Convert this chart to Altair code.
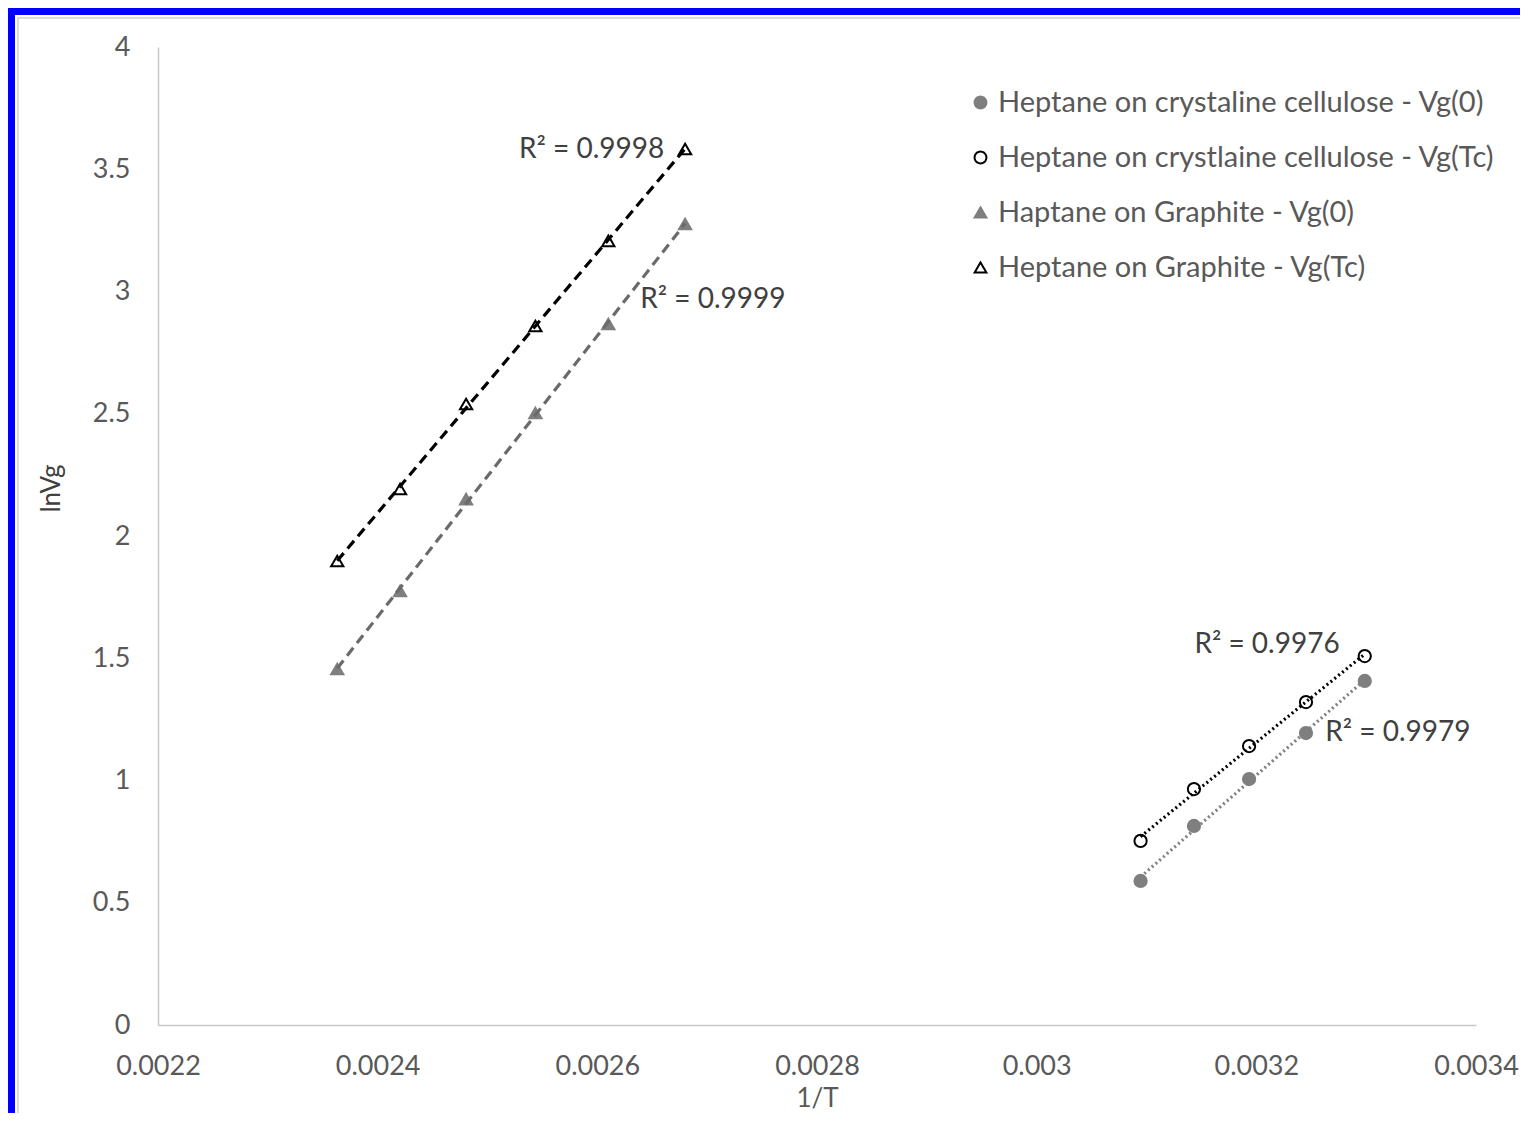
import altair as alt
import pandas as pd

# ---- data ----
series_names = [
    "Heptane on crystaline cellulose - Vg(0)",
    "Heptane on crystlaine cellulose - Vg(Tc)",
    "Haptane on Graphite - Vg(0)",
    "Heptane on Graphite - Vg(Tc)",
]
series_group = ["cellulose", "cellulose", "graphite", "graphite"]

cell_x = [0.0030946, 0.0031432, 0.0031934, 0.0032452, 0.0032987]
cell_vg0 = [0.589, 0.814, 1.006, 1.194, 1.407]
cell_vgtc = [0.753, 0.965, 1.141, 1.321, 1.509]

graph_x = [0.0023632, 0.0024204, 0.0024805, 0.0025436, 0.0026100, 0.0026799]
graph_vg0 = [1.456, 1.775, 2.151, 2.503, 2.867, 3.276]
graph_vgtc = [1.898, 2.192, 2.540, 2.859, 3.207, 3.583]

r2_labels = ["R² = 0.9998", "R² = 0.9999", "R² = 0.9976", "R² = 0.9979"]
r2_x = [0.0026609, 0.0026391, 0.0031436, 0.0032627]
r2_y = [3.579, 2.965, 1.554, 1.194]
r2_align = ["right", "left", "left", "left"]

x_ticks = [0.0022, 0.0024, 0.0026, 0.0028, 0.003, 0.0032, 0.0034]
y_ticks = [0, 0.5, 1, 1.5, 2, 2.5, 3, 3.5, 4]

rows = []
for xs, ys, name, grp in [
    (cell_x, cell_vg0, series_names[0], series_group[0]),
    (cell_x, cell_vgtc, series_names[1], series_group[1]),
    (graph_x, graph_vg0, series_names[2], series_group[2]),
    (graph_x, graph_vgtc, series_names[3], series_group[3]),
]:
    for a, b in zip(xs, ys):
        rows.append({"x": a, "y": b, "series": name, "group": grp})
df = pd.DataFrame(rows)

labels_df = pd.DataFrame({"x": r2_x, "y": r2_y, "text": r2_labels, "align": r2_align})

FONT = "Lato"
LABEL_COLOR = "#595959"

xscale = alt.Scale(domain=[0.0022, 0.0034], nice=False, zero=False)
yscale = alt.Scale(domain=[0, 4], nice=False)

stroke_scale = alt.Scale(domain=series_names, range=["#7f7f7f", "#000000", "#7f7f7f", "#000000"])
fill_scale = alt.Scale(domain=series_names, range=["#7f7f7f", "#ffffff", "#7f7f7f", "#ffffff"])
shape_scale = alt.Scale(domain=series_names, range=["circle", "circle", "triangle-up", "triangle-up"])
line_color_scale = alt.Scale(domain=series_names, range=["#7f7f7f", "#000000", "#6a6a6a", "#000000"])

legend = alt.Legend(
    title=None,
    orient="none",
    legendX=808,
    legendY=41,
    labelFont=FONT,
    labelFontSize=29,
    labelColor=LABEL_COLOR,
    labelLimit=0,
    symbolSize=140,
    symbolStrokeWidth=2,
    symbolDash=[1, 0],
    rowPadding=25,
    labelOffset=3,
)

base = alt.Chart(df)

x_enc = alt.X(
    "x:Q",
    scale=xscale,
    axis=alt.Axis(
        title="1/T",
        values=x_ticks,
        labelExpr="datum.value == 0.003 ? '0.003' : format(datum.value, '.4f')",
        grid=False,
        ticks=False,
        labelFlush=False,
        domainColor="#c8c8c8",
        domainWidth=1.5,
        labelFont=FONT,
        labelFontSize=27,
        labelColor=LABEL_COLOR,
        labelPadding=28,
        titleFont=FONT,
        titleFontSize=26,
        titleFontWeight="normal",
        titleColor=LABEL_COLOR,
        titlePadding=6,
    ),
)
y_enc = alt.Y(
    "y:Q",
    scale=yscale,
    axis=alt.Axis(
        title="lnVg",
        values=y_ticks,
        format=".1~f",
        grid=False,
        ticks=False,
        labelFlush=False,
        domainColor="#c8c8c8",
        domainWidth=1.5,
        labelFont=FONT,
        labelFontSize=27,
        labelColor=LABEL_COLOR,
        labelPadding=28,
        titleFont=FONT,
        titleFontSize=26,
        titleFontWeight="normal",
        titleColor="#404040",
        titleX=-99,
        titleY=441,
        titleBaseline="alphabetic",
    ),
)

points = base.mark_point(filled=False, strokeWidth=2, size=150, opacity=1).encode(
    x=x_enc,
    y=y_enc,
    stroke=alt.Stroke("series:N", scale=stroke_scale, legend=legend, sort=series_names),
    fill=alt.Fill("series:N", scale=fill_scale, legend=legend, sort=series_names),
    shape=alt.Shape("series:N", scale=shape_scale, legend=legend, sort=series_names),
)

def trend(group, dash):
    return base.transform_filter(
        alt.datum.group == group
    ).transform_regression(
        "x", "y", groupby=["series"], method="linear"
    ).mark_line(strokeWidth=3.2, strokeDash=dash).encode(
        x="x:Q",
        y="y:Q",
        color=alt.Color("series:N", scale=line_color_scale, legend=None),
    )

lines_cell = trend("cellulose", [2, 3])
lines_graph = trend("graphite", [10, 6])

text_base = alt.Chart(labels_df)
texts_right = text_base.transform_filter("datum.align == 'right'").mark_text(
    font=FONT, fontSize=28, color="#404040", baseline="middle", align="right"
).encode(x="x:Q", y="y:Q", text="text:N")
texts_left = text_base.transform_filter("datum.align == 'left'").mark_text(
    font=FONT, fontSize=28, color="#404040", baseline="middle", align="left"
).encode(x="x:Q", y="y:Q", text="text:N")

frame_df = pd.DataFrame({"k": [0]})
blue_frame = alt.Chart(frame_df).mark_rect(
    fill=None, stroke="#0000ff", strokeWidth=7
).encode(
    x=alt.value(-146.5), x2=alt.value(1500), y=alt.value(-35.5), y2=alt.value(1200)
)
gray_frame = alt.Chart(frame_df).mark_rect(
    fill=None, stroke="#d0d0d0", strokeWidth=1.5
).encode(
    x=alt.value(-140), x2=alt.value(1500), y=alt.value(-29), y2=alt.value(1200)
)

chart = alt.layer(
    gray_frame, blue_frame, points, lines_cell, lines_graph, texts_right, texts_left
).properties(
    width=1318,
    height=978,
    autosize=alt.AutoSizeParams(type="none"),
    padding={"left": 150, "top": 39, "right": 44, "bottom": 88},
    background="white",
).configure_view(stroke=None)

chart.save("out.html", embed_options={"renderer": "svg", "actions": False})
